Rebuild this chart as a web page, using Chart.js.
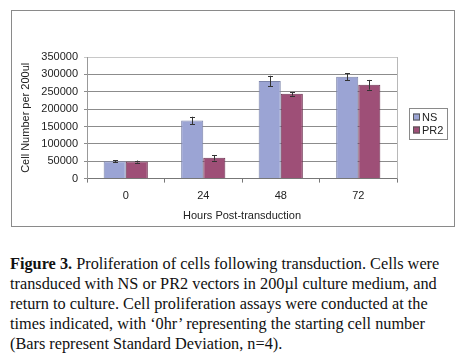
<!DOCTYPE html>
<html>
<head>
<meta charset="utf-8">
<script src="https://cdn.jsdelivr.net/npm/chart.js@4"></script>
<style>
  html, body { margin: 0; padding: 0; background: #fff; }
  body { width: 466px; height: 357px; position: relative; overflow: hidden; }
  #frame { position: absolute; left: 11px; top: 10px; width: 442px; height: 215px; border: 1px solid #8a8a8a; }
  #frame canvas { display: block; }
  #caption { position: absolute; left: 10px; top: 254px; font-family: "Liberation Serif", "Times New Roman", serif;
    font-size: 16.3px; line-height: 20px; color: #111; white-space: nowrap; }
</style>
</head>
<body>
<div id="frame"><canvas id="c" width="442" height="215"></canvas></div>
<div id="caption"><b>Figure 3.</b> Proliferation of cells following transduction. Cells were<br>transduced with NS or PR2 vectors in 200µl culture medium, and<br>return to culture. Cell proliferation assays were conducted at the<br>times indicated, with ‘0hr’ representing the starting cell number<br>(Bars represent Standard Deviation, n=4).</div>
<script>
const categories = ['0', '24', '48', '72'];
const seriesNames = ['NS', 'PR2'];
const nsValues = [50000, 167000, 281000, 293000];
const pr2Values = [49000, 60000, 244000, 270000];
const nsErrors = [3000, 11000, 15000, 10000];
const pr2Errors = [3000, 8000, 5000, 14000];
const yTicks = [0, 50000, 100000, 150000, 200000, 250000, 300000, 350000];
const xTitle = 'Hours Post-transduction';
const yTitle = 'Cell Number per 200ul';

const FONT = 'Liberation Sans, Arial, sans-serif';

const errorBarPlugin = {
  id: 'errorBars',
  afterDatasetsDraw(chart) {
    const ctx = chart.ctx;
    const y = chart.scales.y;
    ctx.save();
    ctx.strokeStyle = '#333';
    ctx.lineWidth = 1;
    chart.data.datasets.forEach((ds, di) => {
      const meta = chart.getDatasetMeta(di);
      meta.data.forEach((bar, i) => {
        const v = ds.data[i], e = ds.errors[i];
        const x = Math.round(bar.x) + 0.5;
        const yt = y.getPixelForValue(v + e), yb = y.getPixelForValue(v - e);
        ctx.beginPath();
        ctx.moveTo(x, yt); ctx.lineTo(x, yb);
        ctx.moveTo(x - 2.5, Math.round(yt) + 0.5); ctx.lineTo(x + 2.5, Math.round(yt) + 0.5);
        ctx.moveTo(x - 2.5, Math.round(yb) + 0.5); ctx.lineTo(x + 2.5, Math.round(yb) + 0.5);
        ctx.stroke();
      });
    });
    ctx.restore();
  }
};

const framePlugin = {
  id: 'plotFrame',
  afterDraw(chart) {
    const ctx = chart.ctx, a = chart.chartArea;
    ctx.save();
    ctx.strokeStyle = '#b8b8b8';
    ctx.lineWidth = 1;
    ctx.beginPath();
    ctx.moveTo(Math.round(a.right) + 0.5, a.top);
    ctx.lineTo(Math.round(a.right) + 0.5, a.bottom);
    ctx.stroke();
    const lx = 397, ly = 97, lw = 38, lh = 31;
    ctx.strokeStyle = '#8a8a8a';
    ctx.strokeRect(lx + 0.5, ly + 0.5, lw, lh);
    ctx.font = '11px ' + FONT;
    ctx.textBaseline = 'middle';
    chart.data.datasets.forEach((ds, i) => {
      const cy = ly + 9 + i * 13;
      ctx.fillStyle = ds.backgroundColor;
      ctx.fillRect(lx + 4, cy - 3.5, 7, 7);
      ctx.strokeStyle = '#555';
      ctx.strokeRect(lx + 4.5, cy - 3.5 + 0.5, 6, 6);
      ctx.fillStyle = '#222';
      ctx.fillText(ds.label, lx + 13, cy + 0.5);
    });
    ctx.restore();
  }
};

new Chart(document.getElementById('c'), {
  type: 'bar',
  data: {
    labels: categories,
    datasets: [
      { label: seriesNames[0], data: nsValues, errors: nsErrors, backgroundColor: '#9ba4d4', borderColor: '#7c84aa', borderWidth: 1 },
      { label: seriesNames[1], data: pr2Values, errors: pr2Errors, backgroundColor: '#9e4f77', borderColor: '#6e3050', borderWidth: 1 }
    ]
  },
  options: {
    responsive: false,
    animation: false,
    devicePixelRatio: 1,
    layout: { padding: { top: 46, right: 57, left: 0, bottom: 3 } },
    plugins: { legend: { display: false }, tooltip: { enabled: false } },
    datasets: { bar: { categoryPercentage: 0.57, barPercentage: 1.0 } },
    scales: {
      x: {
        offset: true,
        grid: { display: true, drawOnChartArea: false, offset: true, tickLength: 4, color: '#777' },
        border: { color: '#777' },
        ticks: { font: { family: FONT, size: 11 }, color: '#222', padding: 7 },
        title: { display: true, text: xTitle, font: { family: FONT, size: 11 }, color: '#222', padding: { top: 0, bottom: 0 } }
      },
      y: {
        min: 0, max: 350000,
        afterBuildTicks(scale) { scale.ticks = yTicks.map(v => ({ value: v })); },
        afterFit(scale) { scale.width = 75; },
        grid: { color: (c) => c.tick && c.tick.value === 350000 ? '#c8c8c8' : '#8c8c8c', tickLength: 3 },
        border: { color: '#999' },
        ticks: { font: { family: FONT, size: 11 }, color: '#222', padding: 6, callback: (v) => String(v) },
        title: { display: true, text: yTitle, font: { family: FONT, size: 11 }, color: '#222', padding: { top: 7, bottom: 0 } }
      }
    }
  },
  plugins: [errorBarPlugin, framePlugin]
});
</script>
</body>
</html>
